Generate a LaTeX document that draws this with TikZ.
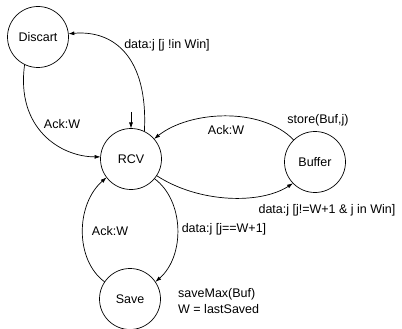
\documentclass[tikz,border=0pt]{standalone}
\usepackage{fontspec}
\setmainfont{Liberation Sans}
\usetikzlibrary{arrows.meta}
\begin{document}
\begin{tikzpicture}[x=1pt,y=-1pt,
  state/.style={draw,circle,minimum size=61pt,inner sep=0pt,outer sep=0pt,line width=0.7pt},
  lbl/.style={font=\fontsize{12.5}{16}\selectfont,inner sep=0pt},
  edge/.style={line width=0.7pt,-{Latex[length=6pt,width=4pt]}}]
\useasboundingbox (0,0) rectangle (402,329);
\node[state,lbl] (dis) at (38,37) {Discart};
\node[state,lbl] (rcv) at (131,159) {RCV};
\node[state,lbl] (buf) at (315,162) {Buffer};
\node[state,lbl] (sav) at (130,299) {Save};
\coordinate (init) at (131,112);
% transitions
\draw[edge] (rcv.64) .. controls +(4,-75) and +(45,-4) .. (dis.6);
\draw[edge] (dis.244) .. controls +(-9,64) and +(-40,0) .. (rcv.176);
\draw[edge] (init) -- (rcv.north);
\draw[edge] (buf.134) .. controls +(-33,-34) and +(35,-28) .. (rcv.41);
\draw[edge] (rcv.-33) .. controls +(43,28) and +(-32,21) .. (buf.224);
\draw[edge] (rcv.-40) .. controls +(30,22) and +(30,-26) .. (sav.34);
\draw[edge] (sav.146) .. controls +(-30,-22) and +(-31,27) .. (rcv.217);
% labels
\node[lbl] (l1) at (167,45) {data:j [j !in Win]};
\node[lbl] (l2) at (62,124) {Ack:W};
\node[lbl] (l3) at (226,130) {Ack:W};
\node[lbl] (l4) at (318,120) {store(Buf,j)};
\node[lbl] (l5) at (327,210) {data:j [j!=W+1 \& j in Win]};
\node[lbl] (l6) at (224,229) {data:j [j==W+1]};
\node[lbl] (l7) at (110,231) {Ack:W};
\node[lbl,anchor=west,align=left] (l8) at (178,301) {saveMax(Buf)\\W = lastSaved};
\end{tikzpicture}
\end{document}
